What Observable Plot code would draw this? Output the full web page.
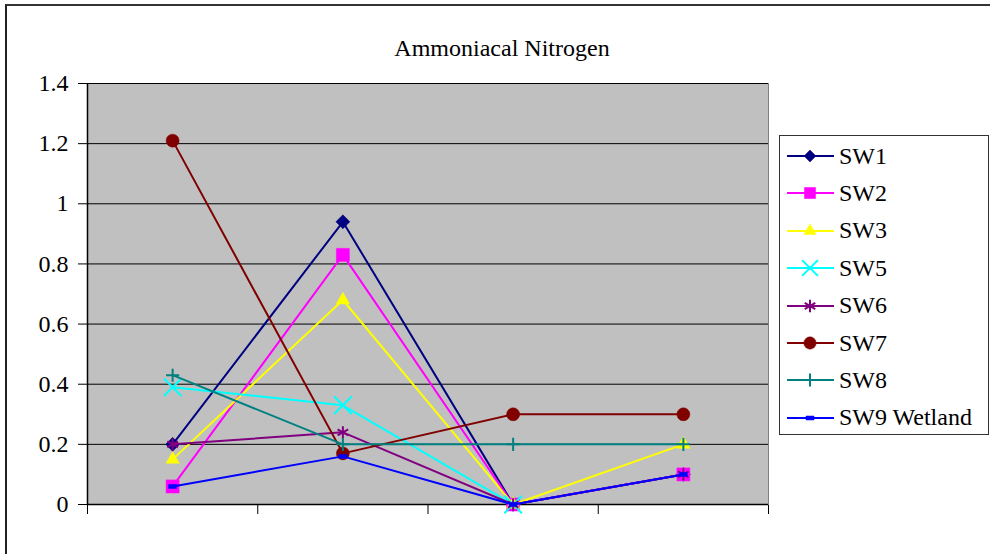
<!DOCTYPE html>
<html>
<head>
<meta charset="utf-8">
<script src="https://cdn.jsdelivr.net/npm/d3@7"></script>
<script src="https://cdn.jsdelivr.net/npm/@observablehq/plot@0.6"></script>
<style>
  html, body { margin: 0; padding: 0; background: #fff; }
  #wrap, #wrap *, #wrap svg text { font-family: "Liberation Serif", serif; }
</style>
</head>
<body>
<div id="wrap" style="position:relative;width:990px;height:554px;overflow:hidden;background:#fff">
  <div id="outer" style="position:absolute;left:5px;top:4px;width:1200px;height:800px;border-top:2px solid #333;border-left:2px solid #222;box-sizing:border-box"></div>
  <div id="chart" style="position:absolute;left:0;top:0"></div>
  <div id="title" style="position:absolute;left:502px;top:36px;transform:translateX(-50%);font-size:24px;line-height:24px;white-space:nowrap;color:#000">Ammoniacal Nitrogen</div>
  <div id="legend" style="position:absolute;left:779px;top:135px;width:210px;height:300px;box-sizing:border-box;border:1px solid #333;background:#fff"></div>
</div>
<script>
// ---- data ----
const categories = [1, 2, 3, 4];
const seriesNames = ["SW1", "SW2", "SW3", "SW5", "SW6", "SW7", "SW8", "SW9 Wetland"];
const sw1 = [0.2, 0.94, 0, 0.1];
const sw2 = [0.06, 0.83, 0, 0.1];
const sw3 = [0.15, 0.68, 0, 0.2];
const sw5 = [0.39, 0.33, 0, null];
const sw6 = [0.2, 0.24, 0, 0.1];
const sw7 = [1.21, 0.17, 0.3, 0.3];
const sw8 = [0.43, 0.2, 0.2, 0.2];
const sw9 = [0.06, 0.16, 0, 0.1];
const seriesValues = [sw1, sw2, sw3, sw5, sw6, sw7, sw8, sw9];
const yTicks = [0, 0.2, 0.4, 0.6, 0.8, 1, 1.2, 1.4];
const xBounds = [0.5, 1.5, 2.5, 3.5, 4.5];

// ---- styles ----
const FONT = "'Liberation Serif', serif";
const colors = ["#000080", "#FF00FF", "#FFFF00", "#00FFFF", "#800080", "#800000", "#008080", "#0000FF"];
const dash = { draw(ctx, size) { ctx.rect(-4, -2, 8, 4); } };
const symbols = ["diamond2", "square2", "triangle2", "times", "asterisk", "circle", "plus", dash];
const radii = [6.3, 8.3, 6.4, 8, 5.8, 6.5, 4.3, 4];
const filled = [true, true, true, false, false, true, false, true];

const rows = [];
seriesNames.forEach((s, i) => {
  seriesValues[i].forEach((v, j) => {
    if (v != null) rows.push({ series: s, idx: i, cat: categories[j], value: v });
  });
});

const seriesMarks = [];
seriesNames.forEach((s, i) => {
  const d = rows.filter(r => r.series === s);
  seriesMarks.push(Plot.line(d, { x: "cat", y: "value", stroke: colors[i], strokeWidth: 2 }));
  seriesMarks.push(Plot.dot(d, {
    x: "cat", y: "value", r: radii[i], symbol: () => symbols[i],
    fill: filled[i] ? colors[i] : "none", stroke: colors[i],
    strokeWidth: filled[i] ? 0.5 : 2
  }));
});

const chart = Plot.plot({
  width: 990,
  height: 554,
  marginLeft: 87,
  marginRight: 222,
  marginTop: 83,
  marginBottom: 50,
  style: { background: "transparent", fontFamily: FONT, fontSize: "24px", color: "#000" },
  x: { type: "linear", domain: [0.5, 4.5], ticks: xBounds, tickFormat: () => "", tickSize: 10, label: null },
  y: { domain: [0, 1.4], ticks: yTicks, tickFormat: d => String(+d.toFixed(1)), tickSize: 9, tickPadding: 10, label: null },
  symbol: { type: "identity" },
  marks: [
    Plot.frame({ fill: "#C0C0C0", stroke: "#808080" }),
    Plot.gridY(yTicks, { stroke: "#000", strokeOpacity: 1, strokeWidth: 1 }),
    Plot.ruleX([0.5], { stroke: "#000", strokeWidth: 1.5 }),
    Plot.ruleY([0], { stroke: "#000", strokeWidth: 1.5 }),
    ...seriesMarks
  ]
});
document.getElementById("chart").appendChild(chart);

// ---- legend (HTML) ----
const legend = d3.select("#legend");
const rowTops = seriesNames.map((s, i) => 20 + i * 37.4);
seriesNames.forEach((s, i) => {
  const row = legend.append("div")
    .style("position", "absolute").style("left", "0px").style("height", "30px")
    .style("display", "flex").style("align-items", "center")
    .style("top", (rowTops[i] - 15) + "px");
  const svg = row.append("svg").attr("width", 55).attr("height", 30).style("display", "block");
  svg.append("line").attr("x1", 7).attr("x2", 54).attr("y1", 15).attr("y2", 15)
    .attr("stroke", colors[i]).attr("stroke-width", 2);
  const symType = typeof symbols[i] === "string"
    ? { diamond2: d3.symbolDiamond2, square2: d3.symbolSquare2, triangle2: d3.symbolTriangle2, times: d3.symbolTimes, asterisk: d3.symbolAsterisk, circle: d3.symbolCircle, plus: d3.symbolPlus }[symbols[i]]
    : symbols[i];
  const scale = [0.85, 0.85, 0.9, 0.9, 1, 0.95, 1, 1][i];
  svg.append("path")
    .attr("transform", "translate(30,15)")
    .attr("d", d3.symbol(symType, Math.PI * (radii[i] * scale) ** 2)())
    .attr("fill", filled[i] ? colors[i] : "none")
    .attr("stroke", colors[i])
    .attr("stroke-width", filled[i] ? 0.5 : 2);
  row.append("span").text(s)
    .style("font-size", "24px")
    .style("margin-left", "4px").style("color", "#000").style("white-space", "nowrap");
});
</script>
</body>
</html>
